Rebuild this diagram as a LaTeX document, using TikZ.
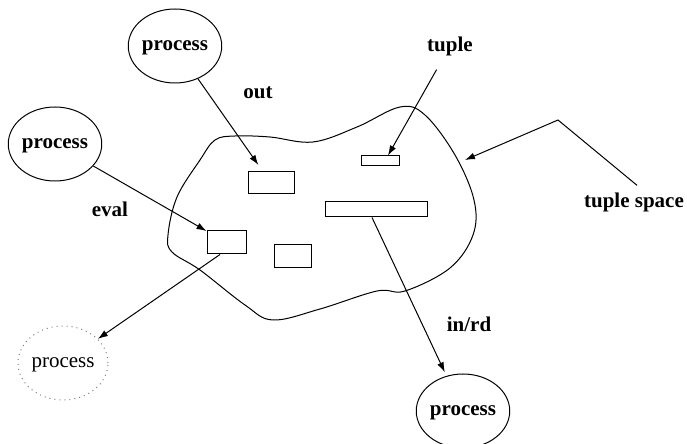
\documentclass[tikz,border=0pt]{standalone}
\usepackage{fontspec}
\setmainfont{Liberation Serif}
\usetikzlibrary{shapes.geometric,arrows.meta}

\tikzset{
    proc/.style={ellipse,draw,inner sep=0pt,minimum width=45pt,minimum height=37pt,
        font=\fontsize{10.5}{12}\selectfont\bfseries,text depth=0pt},
    tup/.style={rectangle,draw,inner sep=0pt},
    lbl/.style={font=\fontsize{10.5}{12}\selectfont\bfseries},
    fleche/.style={-{Latex[length=5pt,width=3.4pt]}},
}

\begin{document}
\begin{tikzpicture}[x=0.5pt,y=-0.5pt,line width=0.5pt]
    \useasboundingbox (0,0) rectangle (687,444);
    % espace des tuples
    \draw plot[smooth cycle,tension=0.6] coordinates {
        (168,235) (177,197) (200,160) (215,140) (235,136) (270,137) (313,142)
        (357,127) (400,107) (425,115) (455,155) (474,200) (473,235) (450,268)
        (405,291) (377,291) (320,309) (273,320) (245,305) (200,270) (172,252)};
    \coordinate (bord) at (465,160);
    % tuples
    \node[tup,minimum width=23pt,minimum height=11pt] (r1) at (271,183) {};
    \node[tup,minimum width=19pt,minimum height=5pt] (r2) at (380,161) {};
    \node[tup,minimum width=51pt,minimum height=7.5pt] (r3) at (376,209.5) {};
    \node[tup,minimum width=19.5pt,minimum height=11.5pt] (r4) at (226.5,242.5) {};
    \node[tup,minimum width=18.5pt,minimum height=11.5pt] (r5) at (292.5,256.5) {};
    % processus
    \node[proc] (p1) at (175,46) {process};
    \node[proc] (p2) at (55,144) {process};
    \node[proc,draw=gray,dotted,font=\fontsize{10.5}{12}\selectfont] (p3) at (63,363) {process};
    \node[proc] (p4) at (463,411) {process};
    % textes
    \node[lbl] (out) at (258,93) {out};
    \node[lbl] (eval) at (110,209) {eval};
    \node[lbl] (tuple) at (450,46) {tuple};
    \node[lbl] (tsp) at (634,202) {tuple space};
    \node[lbl] (inrd) at (469,324) {in/rd};
    \coordinate (coude) at (558,120);
    % fleches
    \draw[fleche,shorten >=4pt] (p1) -- (r1);
    \draw[fleche] (p2) -- (r4);
    \draw[fleche,shorten <=4pt] (tuple) -- ([xshift=4pt]r2.north);
    \draw[fleche] ([xshift=1.5pt]tsp.north) -- (coude) -- (bord);
    \draw[fleche,shorten >=2pt] ([xshift=-2pt]r3.south) -- (p4);
    \draw[fleche] ([xshift=-3.25pt]r4.south) -- (p3);
\end{tikzpicture}
\end{document}
